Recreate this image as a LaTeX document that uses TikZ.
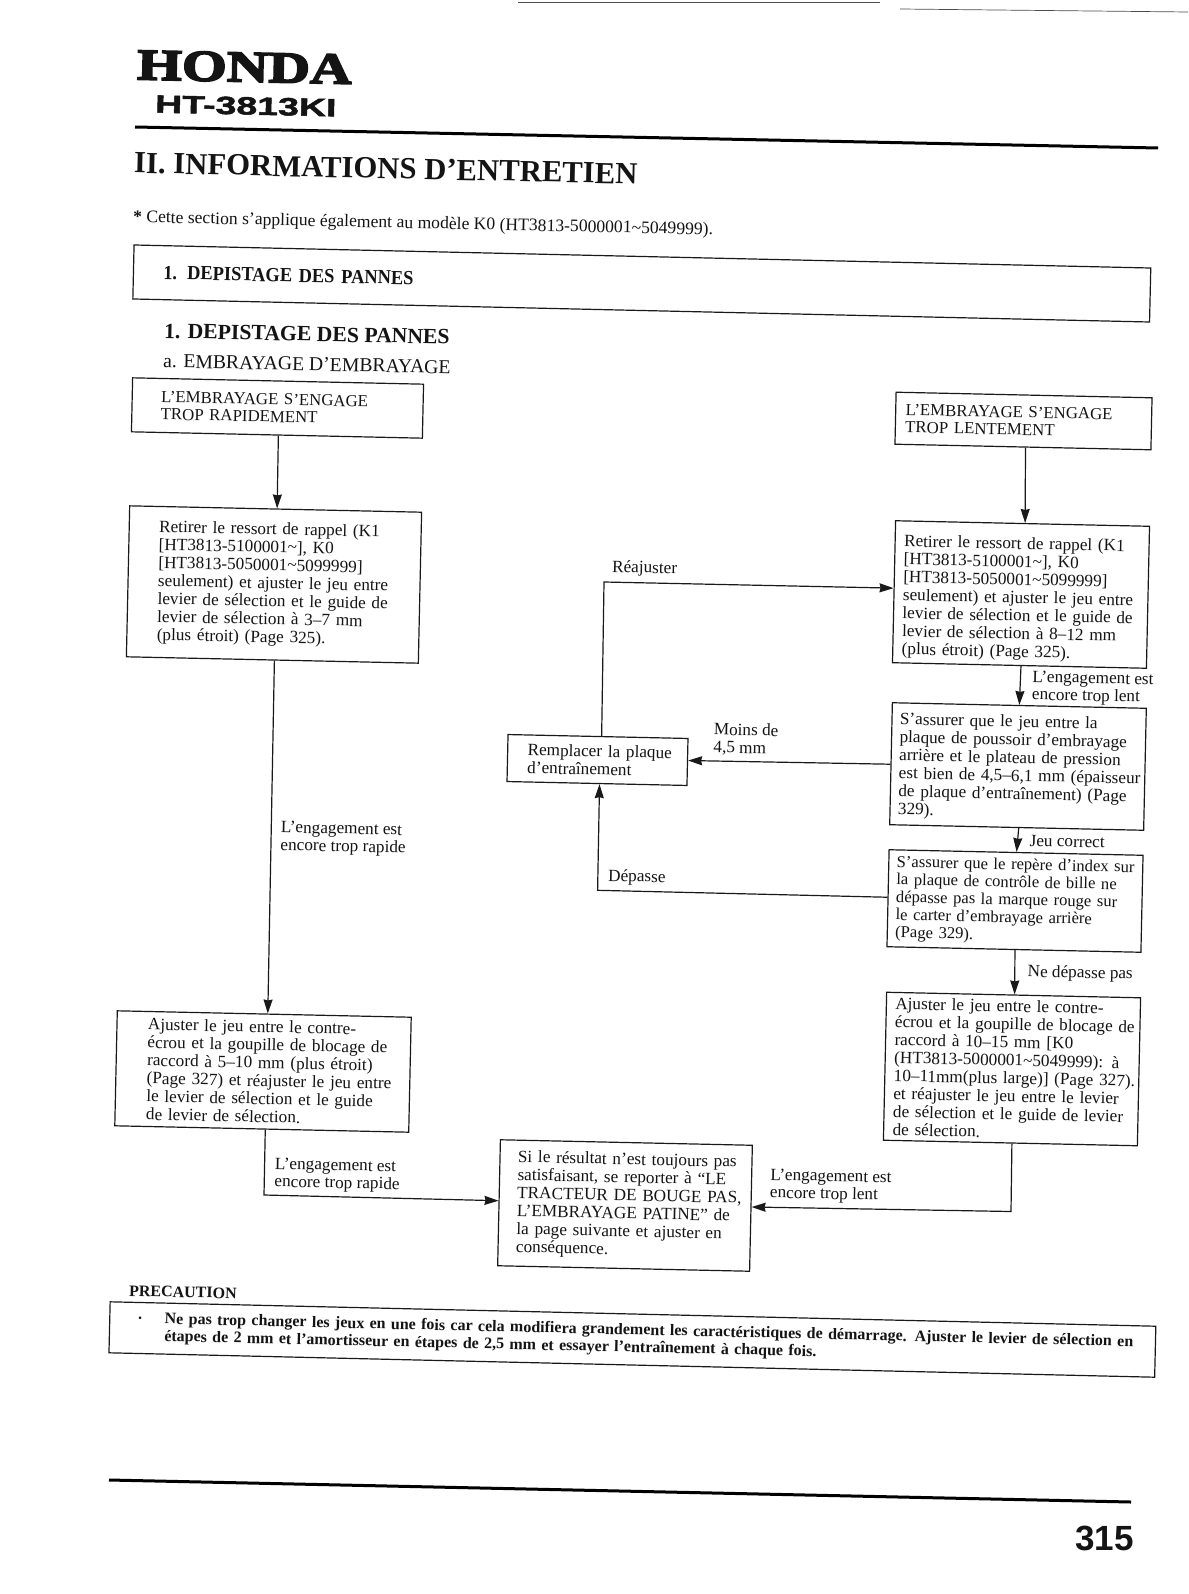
\documentclass[tikz,border=0pt]{standalone}
\usepackage{fontspec}
\setmainfont{Liberation Serif}
\newfontfamily\hondafont[FakeBold=4,FakeStretch=1.31]{Liberation Serif}
\newfontfamily\modelfont[FakeBold=2,FakeStretch=1.5]{Liberation Sans}
\newfontfamily\pagefont{Liberation Sans}
\newfontfamily\narrowbold[FakeStretch=.92]{Liberation Serif}
\usetikzlibrary{arrows.meta,calc}
\newcommand{\botpt}[2]{($(#1.south west)!#2!(#1.south east)$)}
\newcommand{\toppt}[2]{($(#1.north west)!#2!(#1.north east)$)}
\newcommand{\lftpt}[2]{($(#1.north west)!#2!(#1.south west)$)}
\newcommand{\rgtpt}[2]{($(#1.north east)!#2!(#1.south east)$)}
\newcommand{\nb}[1]{\leavevmode\rlap{#1}}
\newcommand{\dn}[1]{\rule{0pt}{#1pt}}
\tikzset{
  x=1pt,y=-1pt,
  every node/.style={text=black!92},
  fbox/.style n args={3}{draw=black!90,line width=1.2pt,rotate=-1.25,minimum width=#1pt,minimum height=#2pt,
     inner xsep=#3pt,inner ysep=0pt,text width=#1pt-2*#3pt,align=left,
     font=\fontsize{17.2}{18}\selectfont},
  capsbox/.style={font=\fontsize{16.8}{17.4}\selectfont},
  lab/.style={anchor=west,rotate=-1.25,inner sep=0pt,align=left,font=\fontsize{17.2}{17.6}\selectfont},
  conn/.style={draw=black!90,line width=1.2pt},
  arr/.style={conn,-{Stealth[inset=1pt,length=14pt,width=9pt]}},
  rule/.style={draw=black,line width=3pt},
}
\begin{document}
\begin{tikzpicture}
\useasboundingbox (0,0) rectangle (1188,1594);
\fill[white] (0,0) rectangle (1188,1594);
% scan edge lines
\coordinate (t1) at (518,2); \coordinate (t2) at (880,2); \coordinate (t3) at (900,9); \coordinate (t4) at (1188,12);
\draw[black!70,line width=.7pt] (t1) -- (t2);
\draw[black!70,line width=.7pt] (t3) -- (t4);
% header
\node[anchor=west,inner sep=0pt,rotate=-1.2,font=\hondafont\fontsize{44}{44}\selectfont\bfseries] (honda) at (137,65) {HONDA};
\node[anchor=west,inner sep=0pt,rotate=-1.2,font=\modelfont\fontsize{25}{25}\selectfont\bfseries] (model) at (155,104) {HT-3813KI};
\coordinate (r1) at (135,127); \coordinate (r2) at (1158,148);
\draw[rule] (r1) -- (r2);
\node[anchor=west,inner sep=0pt,rotate=-1.25,font=\fontsize{30.7}{31}\selectfont\bfseries] (h1) at (134,163) {II. INFORMATIONS D’ENTRETIEN};
\node[anchor=west,inner sep=0pt,rotate=-1.25,font=\fontsize{17.6}{17.6}\selectfont] (star) at (133,218) {\textbf{*} Cette section s’applique également au modèle K0 (HT3813-5000001\textasciitilde5049999).};
\node[fbox={1017}{54}{30},rotate=-.05,font=\narrowbold\fontsize{20}{20}\selectfont\bfseries] (tbox) at (641.8,283.5) {1. DEPISTAGE DES PANNES};
\node[anchor=west,inner sep=0pt,rotate=-1.25,font=\fontsize{21.7}{22}\selectfont\bfseries] (h2) at (164,331) {1. DEPISTAGE DES PANNES};
\node[anchor=west,inner sep=0pt,rotate=-1.25,font=\fontsize{19.7}{20}\selectfont] (h3) at (163,361) {a. EMBRAYAGE D’EMBRAYAGE};
% boxes
\node[fbox={291}{54}{29},capsbox] (b1) at (277.5,408) {L’EMBRAYAGE S’ENGAGE\\TROP RAPIDEMENT};
\node[fbox={256}{52}{10},capsbox] (b2) at (1023.5,421) {L’EMBRAYAGE S’ENGAGE\\TROP LENTEMENT};
\node[fbox={292}{151}{30}] (b3) at (274,584.5) {Retirer le ressort de rappel (K1\\ {[}HT3813-5100001\textasciitilde], K0\\ {[}HT3813-5050001\textasciitilde5099999]\\\nb{seulement) et ajuster le jeu entre}\\levier de sélection et le guide de\\levier de sélection à 3–7 mm\\(plus étroit) (Page 325).};
\node[fbox={254}{142}{9}] (b4) at (1021,594.5) {\dn{21}Retirer le ressort de rappel (K1\\ {[}HT3813-5100001\textasciitilde], K0\\ {[}HT3813-5050001\textasciitilde5099999]\\\nb{seulement) et ajuster le jeu entre}\\levier de sélection et le guide de\\levier de sélection à 8–12 mm\\(plus étroit) (Page 325).};
\node[fbox={180}{47}{20}] (b5) at (597.5,760) {\nb{Remplacer la plaque}\\d’entraînement};
\node[fbox={254}{122}{8}] (b6) at (1018,766.5) {\dn{15}S’assurer que le jeu entre la\\\nb{plaque de poussoir d’embrayage}\\\nb{arrière et le plateau de pression}\\\nb{est bien de 4,5–6,1 mm (épaisseur}\\\nb{de plaque d’entraînement) (Page}\\329).};
\node[fbox={254}{97}{8},font=\fontsize{16.6}{17.6}\selectfont] (b7) at (1015,901) {\nb{S’assurer que le repère d’index sur}\\la plaque de contrôle de bille ne\\dépasse pas la marque rouge sur\\le carter d’embrayage arrière\\(Page 329).};
\node[fbox={254}{148}{9}] (b8) at (1012,1069) {Ajuster le jeu entre le contre-\\\nb{écrou et la goupille de blocage de}\\raccord à 10–15 mm [K0\\\nb{(HT3813-5000001\textasciitilde5049999): à}\\\nb{10–11mm(plus large)] (Page 327).}\\\nb{et réajuster le jeu entre le levier}\\\nb{de sélection et le guide de levier}\\de sélection.};
\node[fbox={294}{115}{31}] (b9) at (263,1071.5) {Ajuster le jeu entre le contre-\\\nb{écrou et la goupille de blocage de}\\\nb{raccord à 5–10 mm (plus étroit)}\\\nb{(Page 327) et réajuster le jeu entre}\\\nb{le levier de sélection et le guide}\\de levier de sélection.};
\node[fbox={252}{126}{18}] (b10) at (625,1205.5) {\nb{Si le résultat n’est toujours pas}\\\nb{satisfaisant, se reporter à “LE}\\\nb{TRACTEUR DE BOUGE PAS,}\\\nb{L’EMBRAYAGE PATINE” de}\\\nb{la page suivante et ajuster en}\\conséquence.};
% precaution
\node[anchor=west,inner sep=0pt,rotate=-1.25,font=\fontsize{16}{16}\selectfont\bfseries] (prec) at (129,1291) {PRECAUTION};
\node[fbox={1046}{51}{55},rotate=-.09,font=\fontsize{16}{17.4}\selectfont\bfseries] (pbox) at (632.4,1339.5) {\llap{·\hspace{22pt}}\nb{Ne pas trop changer les jeux en une fois car cela modifiera grandement les caractéristiques de démarrage. Ajuster le levier de sélection en}\\\nb{étapes de 2 mm et l’amortisseur en étapes de 2,5 mm et essayer l’entraînement à chaque fois.}};
% corner points
\coordinate (c1) at (597.6,890.3);
\coordinate (c2) at (604,582);
\coordinate (c3) at (1011,1211.5);
\coordinate (c4) at (264,1195);
% connectors
\draw[arr] \botpt{b1}{.505} -- \toppt{b3}{.505};
\draw[arr] \botpt{b2}{.51} -- \toppt{b4}{.51};
\draw[arr] \botpt{b3}{.507} -- \toppt{b9}{.512};
\draw[arr] \botpt{b4}{.506} -- \toppt{b6}{.5};
\draw[arr] \botpt{b6}{.508} -- \toppt{b7}{.502};
\draw[arr] \botpt{b7}{.504} -- \toppt{b8}{.504};
\draw[arr] \lftpt{b6}{.504} -- \rgtpt{b5}{.47};
\draw[arr] \lftpt{b7}{.49} -- (c1) -- \botpt{b5}{.514};
\draw[arr] \toppt{b5}{.52} -- (c2) -- \lftpt{b4}{.475};
\draw[arr] \botpt{b8}{.506} -- (c3) -- \rgtpt{b10}{.49};
\draw[arr] \botpt{b9}{.512} -- (c4) -- \lftpt{b10}{.484};
% connector labels
\node[lab] (l1) at (612,568) {Réajuster};
\node[lab] (l2) at (1032,687) {L’engagement est\\encore trop lent};
\node[lab] (l3) at (713.5,739) {Moins de\\4,5 mm};
\node[lab] (l4) at (1029.5,840.5) {Jeu correct};
\node[lab] (l5) at (608,877) {Dépasse};
\node[lab] (l6) at (1027.5,972.6) {Ne dépasse pas};
\node[lab] (l7) at (280.5,837.5) {L’engagement est\\encore trop rapide};
\node[lab] (l8) at (274.5,1174) {L’engagement est\\encore trop rapide};
\node[lab] (l9) at (770,1185) {L’engagement est\\encore trop lent};
% bottom
\coordinate (r3) at (109,1480); \coordinate (r4) at (1131,1502);
\draw[rule] (r3) -- (r4);
\node[anchor=center,inner sep=0pt,font=\pagefont\fontsize{35}{35}\selectfont\bfseries] (pg) at (1104.5,1538) {315};
\end{tikzpicture}
\end{document}
